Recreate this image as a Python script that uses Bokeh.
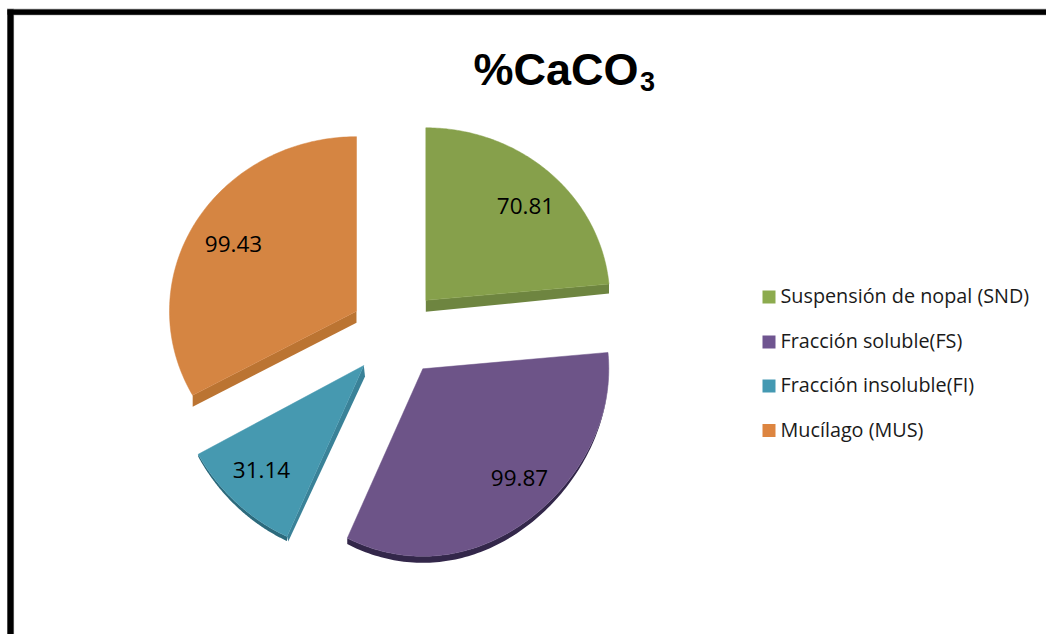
import numpy as np
from bokeh.core.properties import value
from bokeh.embed import file_html
from bokeh.models import Range1d
from bokeh.plotting import figure
from bokeh.resources import INLINE

# Data
categories = ["Suspensión de nopal (SND)", "Fracción soluble(FS)", "Fracción insoluble(FI)", "Mucílago (MUS)"]
values = [70.81, 99.87, 31.14, 99.43]
labels = ["70.81", "99.87", "31.14", "99.43"]

# Styles and layout (page pixels)
top_colors = ["#86a04b", "#6d5488", "#4699b0", "#d58542"]
rim_colors = ["#6e8540", "#33274a", "#2c6a7c", "#bb7432"]
side_colors = ["#6e8540", "#5a4570", "#3a8298", "#bb7432"]
swatch_colors = ["#8cab4e", "#6f5590", "#4499b2", "#dd8540"]
vertex_x = [425.3, 422.3, 363.3, 356.0]
vertex_y = [299.8, 368.3, 365.0, 310.7]
radius_x = [184.0, 186.0, 189.0, 187.0]
radius_y = [172.5, 174.5, 183.0, 174.5]
bulge = [0.0, 13.0, 5.0, 0.0]
depth = [11.5, 6.5, 5, 11.5]
label_x = [525, 519, 261, 233]
label_y = [205.5, 477, 469.5, 243]
legend_y = [296.5, 341.5, 385.5, 430]

W, H = 1046, 634
p = figure(width=W, height=H, x_range=Range1d(0, W), y_range=Range1d(H, 0),
           toolbar_location=None, output_backend="svg", min_border=0, outline_line_color=None)
p.axis.visible = False
p.grid.visible = False
p.background_fill_color = "white"
p.border_fill_color = "white"

# Frame
p.quad(left=[6.5], right=[W], top=[8.3], bottom=[14.8], fill_color="#999999", line_color=None)
p.quad(left=[6.5], right=[13.6], top=[8.3], bottom=[H], fill_color="#999999", line_color=None)
p.quad(left=[7], right=[W], top=[9], bottom=[14.2], fill_color="black", line_color=None)
p.quad(left=[7], right=[13], top=[9], bottom=[H], fill_color="black", line_color=None)


def outline(i, a0, a1):
    t = np.linspace(a0, a1, 120)
    c, s = np.cos(t), np.sin(t)
    dy = radius_y[i] * c + bulge[i] * np.where(c < 0, c ** 3, 0)
    return vertex_x[i] + radius_x[i] * s, vertex_y[i] - dy, c


total = sum(values)
fractions = np.cumsum([0] + values) / total * 2 * np.pi
for i in range(len(values)):
    xs, ys, c = outline(i, fractions[i], fractions[i + 1])
    d = depth[i]
    ax = np.r_[vertex_x[i], xs]
    ay = np.r_[vertex_y[i], ys]
    if i == 0:  # wall along the lower straight edge
        p.patch([ax[0], ax[-1], ax[-1], ax[0]], [ay[0], ay[-1], ay[-1] + 9.5, ay[0] + d],
                fill_color=side_colors[i], line_color=None)
    elif i == 3:
        p.patch([ax[0], ax[1], ax[1], ax[0]], [ay[0], ay[1], ay[1] + d, ay[0] + d],
                fill_color=side_colors[i], line_color=None)
    elif i == 2:  # thin wall on the right straight edge
        p.patch([ax[0], ax[1], ax[1] + 1.2, ax[0] + 1.2], [ay[0], ay[1], ay[1] + d, ay[0] + 11],
                fill_color=side_colors[i], line_color=None)
    if i in (1, 2):  # dark rim below the arc, fading towards the side
        off = d * np.clip(-c, 0, 1)
        p.patch(np.r_[xs, xs[::-1]], np.r_[ys, (ys + off)[::-1]], fill_color=rim_colors[i], line_color=None)
    p.patch(ax, ay, fill_color=top_colors[i], line_color=top_colors[i], line_width=0.5)

p.text(x=label_x, y=label_y, text=labels, text_font=value("Open Sans"), text_font_size="22.5px",
       text_color="black", text_align="center", text_baseline="middle")

# Title
p.text(x=[473], y=[69], text=["%CaCO"], text_font=value("Liberation Sans"), text_font_style="bold",
       text_font_size="45px", text_color="black", text_align="left", text_baseline="middle")
p.text(x=[639.5], y=[80.5], text=["3"], text_font=value("Liberation Sans"), text_font_style="bold",
       text_font_size="27px", text_color="black", text_align="left", text_baseline="middle")

# Legend
p.quad(left=[762] * 4, right=[775] * 4, top=[y - 6.5 for y in legend_y], bottom=[y + 6.5 for y in legend_y],
       fill_color=swatch_colors, line_color=None)
p.text(x=[780] * 4, y=[y - 1.5 for y in legend_y], text=categories, text_font=value("Open Sans"),
       text_font_size="19.8px", text_color="#1a1a1a", text_align="left", text_baseline="middle")

open("out.html", "w").write(file_html(p, INLINE))
